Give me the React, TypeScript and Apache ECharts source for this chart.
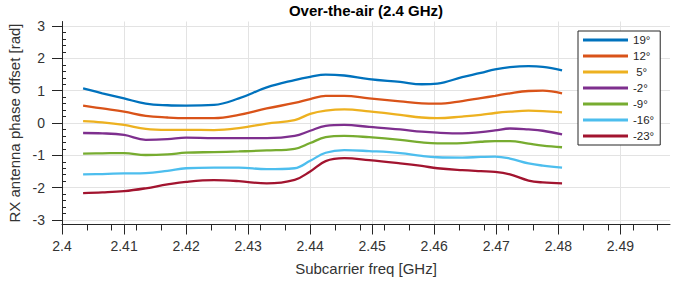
import React, { useEffect, useRef } from "react";
import * as echarts from "echarts";

const freqs = [2.4034, 2.4065, 2.41, 2.4135, 2.417, 2.42, 2.4245, 2.4285, 2.433, 2.4375, 2.44, 2.4425, 2.4455, 2.4495, 2.4545, 2.458, 2.4605, 2.4645, 2.4675, 2.4698, 2.4722, 2.4752, 2.4775, 2.4806];

const s19 = [1.07, 0.92, 0.76, 0.6, 0.55, 0.54, 0.56, 0.76, 1.1, 1.33, 1.43, 1.5, 1.47, 1.36, 1.27, 1.2, 1.22, 1.42, 1.55, 1.66, 1.73, 1.76, 1.74, 1.63];
const s12 = [0.54, 0.45, 0.35, 0.22, 0.17, 0.15, 0.15, 0.25, 0.45, 0.62, 0.74, 0.84, 0.84, 0.76, 0.67, 0.61, 0.6, 0.68, 0.77, 0.84, 0.92, 0.99, 1.0, 0.92];
const s5 = [0.06, 0.02, -0.06, -0.18, -0.21, -0.21, -0.22, -0.16, -0.02, 0.09, 0.28, 0.38, 0.42, 0.36, 0.25, 0.17, 0.15, 0.2, 0.25, 0.31, 0.35, 0.38, 0.37, 0.33];
const sm2 = [-0.31, -0.32, -0.37, -0.52, -0.5, -0.45, -0.47, -0.47, -0.47, -0.4, -0.24, -0.09, -0.06, -0.12, -0.2, -0.27, -0.3, -0.32, -0.28, -0.23, -0.17, -0.2, -0.24, -0.35];
const sm9 = [-0.95, -0.94, -0.93, -0.99, -0.97, -0.92, -0.9, -0.88, -0.85, -0.8, -0.62, -0.44, -0.4, -0.44, -0.52, -0.6, -0.63, -0.62, -0.58, -0.56, -0.56, -0.64, -0.7, -0.75];
const sm16 = [-1.59, -1.58, -1.56, -1.55, -1.48, -1.4, -1.38, -1.38, -1.43, -1.4, -1.17, -0.92, -0.84, -0.87, -0.93, -1.02, -1.06, -1.07, -1.05, -1.04, -1.1, -1.25, -1.32, -1.38];
const sm23 = [-2.17, -2.15, -2.11, -2.02, -1.9, -1.82, -1.77, -1.8, -1.87, -1.76, -1.5, -1.18, -1.09, -1.15, -1.25, -1.33, -1.4, -1.46, -1.49, -1.51, -1.59, -1.78, -1.84, -1.87];

const seriesNames = ["19°", "12°", " 5°", "-2°", "-9°", "-16°", "-23°"];
const seriesValues = [s19, s12, s5, sm2, sm9, sm16, sm23];
const colors = ["#0072BD", "#D95319", "#EDB120", "#7E2F8E", "#77AC30", "#4DBEEE", "#A2142F"];

const xTicks = [2.4, 2.41, 2.42, 2.43, 2.44, 2.45, 2.46, 2.47, 2.48, 2.49];
const yTicks = [-3, -2, -1, 0, 1, 2, 3];

const X_MIN = 2.4;
const X_MAX = 2.498;
const Y_MIN = -Math.PI;
const Y_MAX = Math.PI;

const FONT = "'Liberation Sans', Arial, Helvetica, sans-serif";
const AXIS_COLOR = "#262626";
const GRID_COLOR = "#e3e3e3";

export default function App() {
  const ref = useRef<HTMLDivElement>(null);
  useEffect(() => {
    if (!ref.current) return;
    const chart = echarts.init(ref.current, undefined, { renderer: "svg" });
    const option: any = {
      animation: false,
      backgroundColor: "#ffffff",
      textStyle: { fontFamily: FONT },
      title: {
        text: "Over-the-air (2.4 GHz)",
        left: 366,
        top: 3,
        padding: 0,
        textAlign: "center",
        textStyle: { fontFamily: FONT, fontSize: 15, fontWeight: "bold", color: "#000" },
      },
      grid: { left: 62, right: 13, top: 21.5, bottom: 59.5, outerBoundsMode: "none" },
      legend: {
        orient: "vertical",
        left: 578,
        top: 31,
        icon: "rect",
        itemWidth: 45,
        itemHeight: 3,
        itemGap: 4,
        padding: [3, 6, 3, 5],
        borderColor: AXIS_COLOR,
        borderWidth: 1,
        backgroundColor: "#ffffff",
        textStyle: { fontFamily: FONT, fontSize: 11.5, color: AXIS_COLOR },
        data: seriesNames,
      },
      xAxis: [
        {
          type: "value",
          min: X_MIN,
          max: X_MAX,
          name: "Subcarrier freq [GHz]",
          nameLocation: "middle",
          nameGap: 36,
          nameTextStyle: { fontFamily: FONT, fontSize: 15, color: "#333" },
          axisLine: { show: true, onZero: false, lineStyle: { color: AXIS_COLOR, width: 1 } },
          axisTick: { show: true, customValues: xTicks, length: 10, lineStyle: { color: AXIS_COLOR, width: 1 } },
          minorTick: { show: true, splitNumber: 5, length: 6, lineStyle: { color: AXIS_COLOR, width: 1 } },
          axisLabel: {
            customValues: xTicks,
            fontFamily: FONT,
            fontSize: 14,
            color: "#333",
            margin: 14,
            formatter: (v: number) => String(+v.toFixed(2)),
          },
          splitLine: { show: true, lineStyle: { color: GRID_COLOR, width: 1 } },
        },
      ],
      yAxis: [
        {
          type: "value",
          min: Y_MIN,
          max: Y_MAX,
          name: "RX antenna phase offset [rad]",
          nameLocation: "middle",
          nameGap: 33,
          nameTextStyle: { fontFamily: FONT, fontSize: 15, color: "#333" },
          axisLine: { show: true, onZero: false, lineStyle: { color: AXIS_COLOR, width: 1 } },
          axisTick: { show: true, customValues: yTicks, length: 10, lineStyle: { color: AXIS_COLOR, width: 1 } },
          axisLabel: {
            customValues: yTicks,
            fontFamily: FONT,
            fontSize: 14,
            color: "#333",
            margin: 17,
          },
          splitLine: { show: true, lineStyle: { color: GRID_COLOR, width: 1 } },
        },
        {
          type: "value",
          min: Y_MIN,
          max: Y_MAX,
          position: "left",
          axisLine: { show: false, onZero: false },
          axisTick: { show: false, inside: true },
          minorTick: { show: true, splitNumber: 5, length: 4, lineStyle: { color: AXIS_COLOR, width: 1 } },
          axisLabel: { show: false },
          splitLine: { show: false },
        },
      ],
      series: seriesNames.map((name, i) => ({
        name,
        type: "line",
        xAxisIndex: 0,
        yAxisIndex: 0,
        data: freqs.map((f, j) => [f, seriesValues[i][j]]),
        showSymbol: false,
        smooth: 0.4,
        lineStyle: { color: colors[i], width: 2.3 },
        itemStyle: { color: colors[i] },
      })),
    };
    chart.setOption(option);
    return () => chart.dispose();
  }, []);
  return (
    <div
      ref={ref}
      style={{ position: "absolute", left: 0, top: 0, width: 683, height: 284 }}
    />
  );
}
